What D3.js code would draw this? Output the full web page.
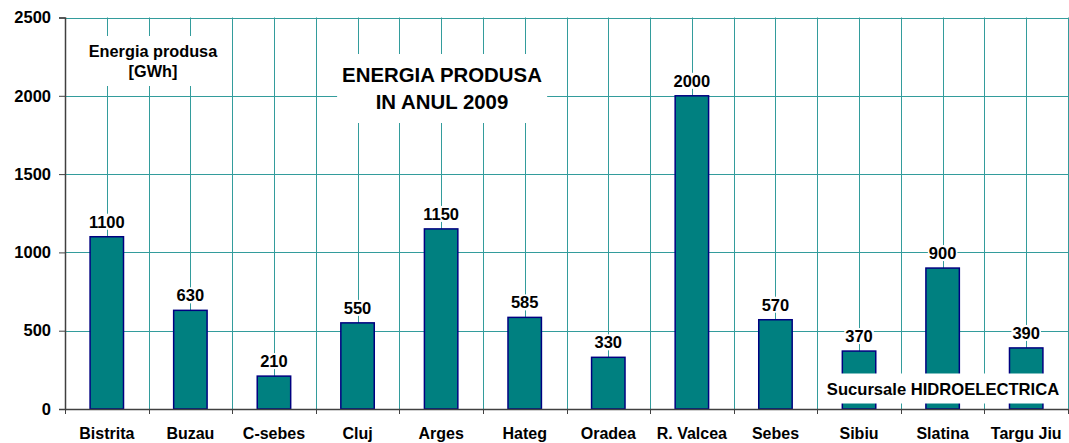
<!DOCTYPE html>
<html>
<head>
<meta charset="utf-8">
<script src="https://cdn.jsdelivr.net/npm/d3@7"></script>
<style>
  html, body { margin: 0; padding: 0; background: #fff; }
  svg { display: block; }
  text { font-family: "Liberation Sans", Arial, Helvetica, sans-serif; font-weight: bold; fill: #000; }
</style>
</head>
<body>
<svg id="chart" width="1069" height="443"></svg>
<script>
const categories = ["Bistrita", "Buzau", "C-sebes", "Cluj", "Arges", "Hateg", "Oradea", "R. Valcea", "Sebes", "Sibiu", "Slatina", "Targu Jiu"];
const values = [1100, 630, 210, 550, 1150, 585, 330, 2000, 570, 370, 900, 390];
const yTicks = [0, 500, 1000, 1500, 2000, 2500];
const titleLines = ["ENERGIA PRODUSA", "IN ANUL 2009"];
const unitLines = ["Energia produsa", "[GWh]"];
const footNote = "Sucursale HIDROELECTRICA";

const W = 1069, H = 443;
const margin = { left: 65, right: 1, top: 17.5, bottom: 34 };
const svg = d3.select("#chart");

const x = d3.scaleBand().domain(categories).range([margin.left, W - margin.right]).padding(0);
const y = d3.scaleLinear().domain([0, 2500]).range([H - margin.bottom, margin.top]);

const gridColor = "#339c9c";
const grid = svg.append("g");

// horizontal gridlines
grid.selectAll("line.h").data(yTicks.filter(d => d > 0)).join("line")
  .attr("x1", margin.left).attr("x2", W - margin.right)
  .attr("y1", d => Math.round(y(d)) + 0.5).attr("y2", d => Math.round(y(d)) + 0.5)
  .attr("stroke", gridColor).attr("stroke-width", 1);

// vertical gridlines at band boundaries and centers
const bounds = categories.map(c => x(c)).concat([x(categories[categories.length - 1]) + x.bandwidth()]);
const centers = categories.map(c => x(c) + x.bandwidth() / 2);
grid.selectAll("line.vb").data(bounds.slice(1)).join("line")
  .attr("x1", d => Math.round(d) + 0.5).attr("x2", d => Math.round(d) + 0.5)
  .attr("y1", y(2500)).attr("y2", y(0))
  .attr("stroke", gridColor).attr("stroke-width", 1);
grid.selectAll("line.vc").data(centers).join("line")
  .attr("x1", d => Math.round(d) + 0.5).attr("x2", d => Math.round(d) + 0.5)
  .attr("y1", y(2500)).attr("y2", y(0))
  .attr("stroke", gridColor).attr("stroke-width", 1);

// bars
const barW = x.bandwidth() * 0.4;
svg.append("g").selectAll("rect").data(categories).join("rect")
  .attr("x", (c) => x(c) + (x.bandwidth() - barW) / 2)
  .attr("y", (c, i) => y(values[i]))
  .attr("width", barW)
  .attr("height", (c, i) => y(0) - y(values[i]))
  .attr("fill", "#008080")
  .attr("stroke", "#000080")
  .attr("stroke-width", 1.5);

// axes
const yAxis = d3.axisLeft(y).tickValues(yTicks).tickSize(6).tickPadding(8).tickFormat(d3.format("d"));
const gy = svg.append("g").attr("transform", `translate(${margin.left},0)`).call(yAxis);
gy.select(".domain").attr("stroke", "#404040").attr("stroke-width", 1.5);
gy.selectAll(".tick line").attr("stroke", "#404040");
gy.selectAll(".tick text").style("font-size", "16.5px").style("font-family", "'Liberation Sans', Arial, sans-serif").style("font-weight", "bold").attr("fill", "#000");

const xAxis = d3.axisBottom(x).tickSize(0).tickPadding(19);
const gx = svg.append("g").attr("transform", `translate(0,${y(0)})`).call(xAxis);
gx.select(".domain").attr("stroke", "#404040").attr("stroke-width", 1.5);
gx.selectAll(".tick text").style("font-size", "16px").style("font-family", "'Liberation Sans', Arial, sans-serif").style("font-weight", "bold").attr("fill", "#000").attr("dy", "0.71em");
// boundary ticks below x axis
svg.append("g").selectAll("line").data(bounds).join("line")
  .attr("x1", d => Math.round(d) + 0.5).attr("x2", d => Math.round(d) + 0.5)
  .attr("y1", y(0)).attr("y2", y(0) + 5)
  .attr("stroke", "#404040").attr("stroke-width", 1);

// helper: text with white background box; pad = [horizontal, top, bottom]
function boxedText(lines, cx, firstBaseline, lineH, size, pad) {
  const g = svg.append("g");
  const r = g.append("rect").attr("fill", "#fff");
  g.selectAll("text").data(lines).join("text")
    .attr("x", cx).attr("y", (d, i) => firstBaseline + i * lineH)
    .attr("text-anchor", "middle").style("font-size", size + "px").text(d => d);
  const bb = g.node().getBBox();
  r.attr("x", bb.x - pad[0]).attr("y", bb.y - pad[1])
   .attr("width", bb.width + 2 * pad[0]).attr("height", bb.height + pad[1] + pad[2]);
  return g;
}

// value labels
categories.forEach((c, i) => {
  boxedText([String(values[i])], x(c) + x.bandwidth() / 2, y(values[i]) - 9, 0, 16.5, [1, -1, -1]);
});

// annotations
boxedText(unitLines, 153, 57, 20, 16.3, [9, 6, 6]);
boxedText(titleLines, 442, 82, 27, 20.4, [5, 10, 10]);
boxedText([footNote], 943, 395, 0, 16.6, [8, 6.5, 4.5]);
</script>
</body>
</html>
